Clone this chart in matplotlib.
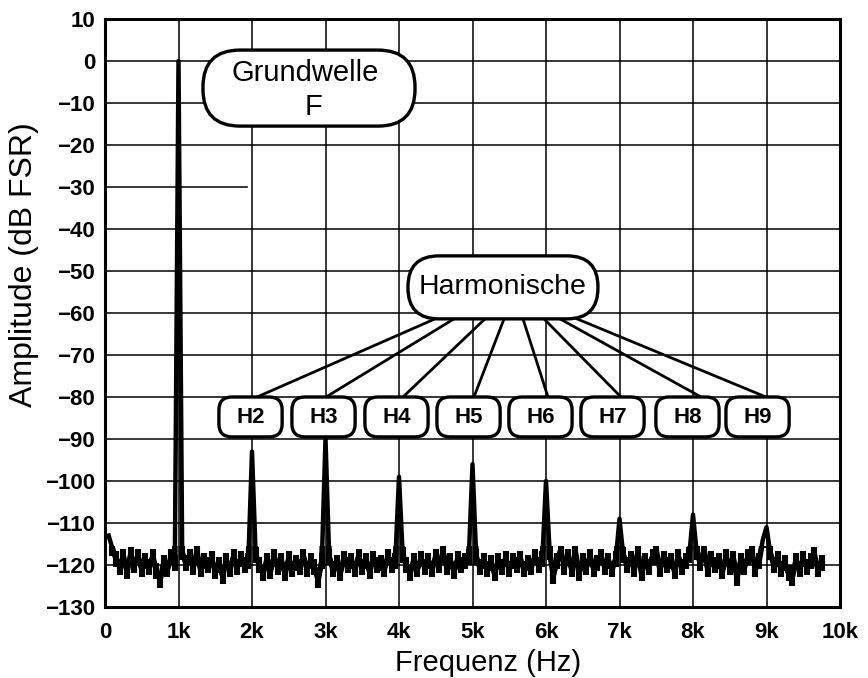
import numpy as np
import matplotlib
matplotlib.use("Agg")
import matplotlib.pyplot as plt
from matplotlib.patches import FancyBboxPatch, Rectangle

plt.rcParams['font.family'] = ['Liberation Sans', 'DejaVu Sans']

# FFT bins, 50 Hz apart, first bin at 50 Hz
bin_step = 50
levels_db = [
    # 50 .. 1000 Hz
    -113, -116, -118.5, -120.5, -118, -121.5, -117.5, -120, -118, -121,
    -119, -120.5, -118, -121.5, -123.5, -119.5, -121, -118, -119.5, 0,
    # 1050 .. 2000 Hz
    -117, -119.5, -118, -120.5, -117, -121, -119, -120, -118.5, -121.5,
    -120, -122.5, -119, -121, -118, -120.5, -118.5, -120, -119, -93,
    # 2050 .. 3000 Hz
    -117.5, -120, -122, -119, -121.5, -118, -120.5, -119, -122, -118.5,
    -121, -119.5, -120.5, -118, -121, -119, -120.5, -123.5, -119, -90,
    # 3050 .. 4000 Hz
    -118, -121, -119.5, -122, -118.5, -120, -119, -121, -118, -120.5,
    -119, -121.5, -118.5, -120, -119.5, -121, -118, -120, -119, -99,
    # 4050 .. 5000 Hz
    -117.5, -120, -122, -119, -121, -118.5, -120.5, -119, -121, -118,
    -120, -117, -120.5, -119, -121.5, -118.5, -120, -119, -118, -96,
    # 5050 .. 6000 Hz
    -118, -120.5, -119, -121, -119.5, -122, -119, -120.5, -118.5, -121,
    -119, -120, -118.5, -121, -119.5, -120.5, -118, -120, -118.5, -100,
    # 6050 .. 7000 Hz
    -117, -122.5, -119, -116.5, -120.5, -118, -121, -117, -122, -119,
    -120.5, -118, -121, -119.5, -118, -120.5, -119, -121, -118.5, -109,
    # 7050 .. 8000 Hz
    -117.5, -120, -118.5, -121, -117, -122, -119, -120.5, -118, -116.5,
    -121, -118.5, -120, -119, -121.5, -118, -120.5, -119, -117.5, -108,
    # 8050 .. 9000 Hz
    -117, -119.5, -116.5, -121, -118.5, -120, -119, -121.5, -118, -120.5,
    -118.5, -123, -119, -120.5, -118, -117, -121, -119, -114, -111,
    # 9050 .. 9750 Hz
    -117, -120, -118.5, -121, -119.5, -122, -123, -119, -121, -118.5,
    -120.5, -119, -117.5, -121, -119.5,
]
freqs_hz = bin_step * np.arange(1, len(levels_db) + 1)

harmonic_names = ['H2', 'H3', 'H4', 'H5', 'H6', 'H7', 'H8', 'H9']

x_ticks = [0, 1000, 2000, 3000, 4000, 5000, 6000, 7000, 8000, 9000, 10000]
x_tick_labels = ['0', '1k', '2k', '3k', '4k', '5k', '6k', '7k', '8k', '9k', '10k']
y_ticks = list(range(-130, 11, 10))

W, H = 868, 678
fig = plt.figure(figsize=(W / 100, H / 100), dpi=100)
ax_l, ax_r, ax_t, ax_b = 105, 840, 19, 607
ax = fig.add_axes([ax_l / W, 1 - ax_b / H, (ax_r - ax_l) / W, (ax_b - ax_t) / H])
ax.set_xlim(0, 10000)
ax.set_ylim(-130, 10)

# equal-pixel rounding for boxes drawn in data units
px_per_hz = (ax_r - ax_l) / 10000
px_per_db = (ax_b - ax_t) / 140
aspect = px_per_hz / px_per_db

# grid drawn by hand (the -30 dB line is only partly printed)
for y in y_ticks:
    x_end = 1930 if y == -30 else 10000
    ax.plot([0, x_end], [y, y], color='black', lw=1.1, zorder=1)
for x in x_ticks:
    ax.axvline(x, color='black', lw=1.1, zorder=1)

# spectrum trace; inside the noise floor every bin gets a short vertical
# stroke so the floor prints as the dense band of a real analyser plot
ax.plot(freqs_hz, levels_db, color='black', lw=3.2, zorder=3)
floor_clip = Rectangle((0, -135), 10000, 19.5, transform=ax.transData)
floor_wide, = ax.plot(freqs_hz, levels_db, color='black', lw=4.0, zorder=3)
floor_ticks, = ax.plot(freqs_hz, levels_db, ls='none', marker='|', ms=11,
                       mew=4.4, color='black', zorder=3)
floor_wide.set_clip_path(floor_clip)
floor_ticks.set_clip_path(floor_clip)

for s in ax.spines.values():
    s.set_linewidth(2.2)
    s.set_zorder(6)

ax.set_xticks(x_ticks)
ax.set_xticklabels(x_tick_labels)
ax.set_yticks(y_ticks)
ax.tick_params(length=0, labelsize=16)
ax.tick_params(axis='y', pad=7)
ax.tick_params(axis='x', pad=11)
for lbl in ax.get_xticklabels() + ax.get_yticklabels():
    lbl.set_fontweight('bold')

ax.set_xlabel('Frequenz (Hz)', fontsize=21)
ax.set_ylabel('Amplitude (dB FSR)', fontsize=23)
ax.xaxis.set_label_coords(0.521, -0.095)
ax.yaxis.set_label_coords(-0.11, 0.583)
ax.xaxis.label.set_va('center')
ax.yaxis.label.set_va('center')


def rounded_box(x0, y0, w, h, r_px, lw=2.4):
    box = FancyBboxPatch((x0, y0), w, h,
                         boxstyle=f"round,pad=0,rounding_size={r_px / px_per_hz}",
                         mutation_aspect=aspect, facecolor='white',
                         edgecolor='black', lw=lw, zorder=5)
    ax.add_patch(box)


# fundamental
rounded_box(1333, -15.5, 2885, 18.1, 37)
ax.text(2720, -2.8, 'Grundwelle', fontsize=21, ha='center', va='center', zorder=7)
ax.text(2840, -11, 'F', fontsize=21, ha='center', va='center', zorder=7)

# harmonics
rounded_box(4122, -61.4, 2585, 15.0, 31)
ax.text(5415, -53.8, 'Harmonische', fontsize=20.5, ha='center', va='center', zorder=7)

line_start_x = [4490, 4748, 5170, 5429, 5687, 5973, 6190, 6422]
line_end_x = [2068, 3007, 4054, 5020, 6027, 7020, 8109, 8993]
tag_center_x = [1980, 2973, 3966, 4946, 5925, 6905, 7925, 8878]
tag_w = 860
for name, xs, xe, xc in zip(harmonic_names, line_start_x, line_end_x, tag_center_x):
    ax.plot([xs, xe], [-61.4, -80], color='black', lw=2.0, zorder=4)
    rounded_box(xc - tag_w / 2, -89.5, tag_w, 9.5, 13, lw=2.4)
    ax.text(xc, -84.8, name, fontsize=16, fontweight='bold',
            ha='center', va='center', zorder=7)

fig.savefig('out.png', dpi=100)
